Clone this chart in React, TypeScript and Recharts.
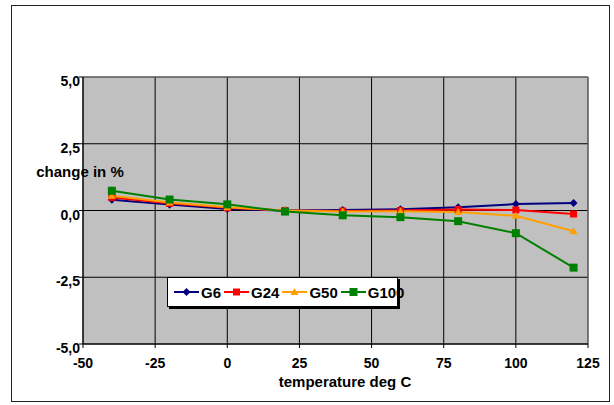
import { LineChart, Line, XAxis, YAxis, CartesianGrid, ReferenceLine } from "recharts";

const temps = [-40, -20, 0, 20, 40, 60, 80, 100, 120];
const g6 = [0.4, 0.22, 0.06, 0, 0.02, 0.05, 0.12, 0.24, 0.28];
const g24 = [0.49, 0.27, 0.1, 0, -0.02, 0.0, 0.04, 0.02, -0.13];
const g50 = [0.55, 0.3, 0.12, 0, -0.04, -0.03, -0.06, -0.2, -0.78];
const g100 = [0.74, 0.41, 0.23, -0.04, -0.18, -0.25, -0.4, -0.85, -2.14];

const xTicks = [-50, -25, 0, 25, 50, 75, 100, 125];
const yTicks = [-5, -2.5, 0, 2.5, 5];

const data = temps.map((t, i) => ({ t, G6: g6[i], G24: g24[i], G50: g50[i], G100: g100[i] }));

const FONT = "'Liberation Sans', Arial, sans-serif";

const series = [
  { key: "G6", color: "#000080", shape: "diamond" },
  { key: "G24", color: "#ff0000", shape: "square" },
  { key: "G50", color: "#ffa000", shape: "triangle" },
  { key: "G100", color: "#008000", shape: "bigsquare" },
];

function Marker({ cx, cy, shape, color }: any) {
  if (cx == null || cy == null) return null;
  if (shape === "diamond") {
    return <path d={`M${cx},${cy - 4}L${cx + 4},${cy}L${cx},${cy + 4}L${cx - 4},${cy}Z`} fill={color} />;
  }
  if (shape === "triangle") {
    return <path d={`M${cx},${cy - 4}L${cx + 4},${cy + 3}L${cx - 4},${cy + 3}Z`} fill={color} />;
  }
  const s = shape === "bigsquare" ? 4 : 3.5;
  return <rect x={cx - s} y={cy - s} width={s * 2} height={s * 2} fill={color} />;
}

const XTick = ({ x, y, payload }: any) => (
  <text x={x} y={y + 18} textAnchor="middle" fontFamily={FONT} fontWeight="bold" fontSize={14} fill="#000">
    {payload.value}
  </text>
);

const YTick = ({ x, y, payload }: any) => (
  <text x={x + 1} y={y + 9} textAnchor="end" fontFamily={FONT} fontWeight="bold" fontSize={14} fill="#000">
    {payload.value.toFixed(1).replace(".", ",")}
  </text>
);

function LegendBox() {
  return (
    <div
      style={{
        position: "absolute",
        left: 167,
        top: 277,
        width: 231,
        height: 30,
        boxSizing: "border-box",
        background: "#fff",
        border: "1px solid #000",
        boxShadow: "2px 2px 0 #000",
        display: "flex",
        alignItems: "center",
        paddingLeft: 6,
        whiteSpace: "nowrap",
        overflow: "visible",
        fontFamily: FONT,
        fontWeight: "bold",
        fontSize: 15,
      }}
    >
      {series.map((s) => (
        <span key={s.key} style={{ display: "flex", alignItems: "center", marginRight: 3 }}>
          <svg width={25} height={10} style={{ marginRight: 2 }}>
            <line x1={0} y1={5} x2={25} y2={5} stroke={s.color} strokeWidth={2} />
            <Marker cx={12.5} cy={5} shape={s.shape} color={s.color} />
          </svg>
          {s.key}
        </span>
      ))}
    </div>
  );
}

export default function App() {
  return (
    <div style={{ position: "absolute", left: 0, top: 0, width: 614, height: 405, background: "#fff" }}>
      <div
        style={{
          position: "absolute",
          left: 11,
          top: 5,
          width: 599,
          height: 397,
          boxSizing: "border-box",
          border: "1px solid #222",
        }}
      />
      <LineChart
        width={614}
        height={405}
        data={data}
        margin={{ top: 77, right: 26, left: 33, bottom: 18 }}
        style={{ position: "absolute", left: 0, top: 0 }}
      >
        <CartesianGrid stroke="#000" fill="#c0c0c0" fillOpacity={1} />
        <ReferenceLine y={5} stroke="#808080" />
        <ReferenceLine x={125} stroke="#808080" />
        <XAxis
          dataKey="t"
          type="number"
          domain={[-50, 125]}
          ticks={xTicks}
          interval={0}
          height={43}
          stroke="#000"
          tickSize={4}
          tickMargin={2}
          tick={<XTick />}
          label={({ viewBox }: any) => (
            <text x={345} y={viewBox.y + 43} textAnchor="middle" fontFamily={FONT} fontWeight="bold" fontSize={15} fill="#000">
              temperature deg C
            </text>
          )}
        />
        <YAxis
          type="number"
          domain={[-5, 5]}
          ticks={yTicks}
          interval={0}
          width={50}
          stroke="#000"
          tickSize={4}
          tickMargin={0}
          tick={<YTick />}
          label={({ viewBox }: any) => (
            <text x={80} y={viewBox.y + 100} textAnchor="middle" fontFamily={FONT} fontWeight="bold" fontSize={15} fill="#000">
              change in %
            </text>
          )}
        />
        {series.map((s) => (
          <Line
            key={s.key}
            dataKey={s.key}
            stroke={s.color}
            strokeWidth={2}
            isAnimationActive={false}
            dot={(p: any) => <Marker key={`${s.key}-${p.index}`} cx={p.cx} cy={p.cy} shape={s.shape} color={s.color} />}
            activeDot={false}
          />
        ))}
      </LineChart>
      <LegendBox />
    </div>
  );
}
